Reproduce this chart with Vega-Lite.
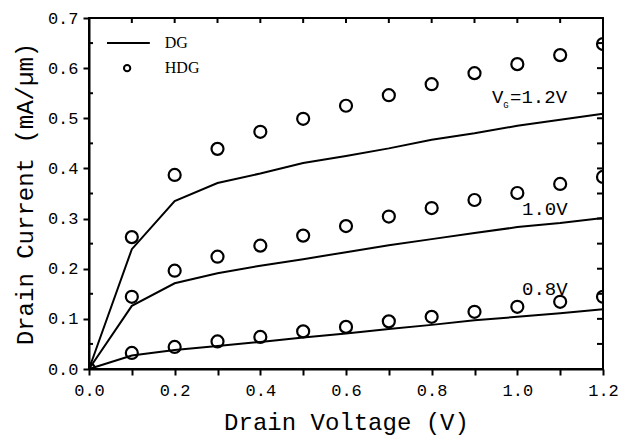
{
  "$schema": "https://vega.github.io/schema/vega-lite/v6.json",
  "width": 514,
  "height": 351,
  "autosize": "none",
  "padding": {"left": 89, "top": 18, "right": 16, "bottom": 71},
  "background": "white",
  "config": {
    "view": {"stroke": "black", "strokeWidth": 2},
    "axis": {
      "grid": false,
      "domainColor": "black",
      "domainWidth": 2,
      "tickColor": "black",
      "tickWidth": 2,
      "labelFont": "Liberation Mono",
      "labelFontSize": 17,
      "labelColor": "black",
      "titleFont": "Liberation Mono",
      "titleFontSize": 24,
      "titleFontWeight": "normal",
      "titleColor": "black"
    }
  },
  "datasets": {
    "curves": [
      {"vg": "1.2V", "type": "DG", "vd": 0.0, "id": 0.0},
      {"vg": "1.2V", "type": "DG", "vd": 0.1, "id": 0.239},
      {"vg": "1.2V", "type": "DG", "vd": 0.2, "id": 0.335},
      {"vg": "1.2V", "type": "DG", "vd": 0.3, "id": 0.371},
      {"vg": "1.2V", "type": "DG", "vd": 0.4, "id": 0.390},
      {"vg": "1.2V", "type": "DG", "vd": 0.5, "id": 0.411},
      {"vg": "1.2V", "type": "DG", "vd": 0.6, "id": 0.425},
      {"vg": "1.2V", "type": "DG", "vd": 0.7, "id": 0.440},
      {"vg": "1.2V", "type": "DG", "vd": 0.8, "id": 0.457},
      {"vg": "1.2V", "type": "DG", "vd": 0.9, "id": 0.470},
      {"vg": "1.2V", "type": "DG", "vd": 1.0, "id": 0.485},
      {"vg": "1.2V", "type": "DG", "vd": 1.1, "id": 0.497},
      {"vg": "1.2V", "type": "DG", "vd": 1.2, "id": 0.509},
      {"vg": "1.0V", "type": "DG", "vd": 0.0, "id": 0.0},
      {"vg": "1.0V", "type": "DG", "vd": 0.1, "id": 0.126},
      {"vg": "1.0V", "type": "DG", "vd": 0.2, "id": 0.171},
      {"vg": "1.0V", "type": "DG", "vd": 0.3, "id": 0.191},
      {"vg": "1.0V", "type": "DG", "vd": 0.4, "id": 0.206},
      {"vg": "1.0V", "type": "DG", "vd": 0.5, "id": 0.219},
      {"vg": "1.0V", "type": "DG", "vd": 0.6, "id": 0.233},
      {"vg": "1.0V", "type": "DG", "vd": 0.7, "id": 0.247},
      {"vg": "1.0V", "type": "DG", "vd": 0.8, "id": 0.259},
      {"vg": "1.0V", "type": "DG", "vd": 0.9, "id": 0.271},
      {"vg": "1.0V", "type": "DG", "vd": 1.0, "id": 0.283},
      {"vg": "1.0V", "type": "DG", "vd": 1.1, "id": 0.291},
      {"vg": "1.0V", "type": "DG", "vd": 1.2, "id": 0.301},
      {"vg": "0.8V", "type": "DG", "vd": 0.0, "id": 0.0},
      {"vg": "0.8V", "type": "DG", "vd": 0.1, "id": 0.027},
      {"vg": "0.8V", "type": "DG", "vd": 0.2, "id": 0.038},
      {"vg": "0.8V", "type": "DG", "vd": 0.3, "id": 0.046},
      {"vg": "0.8V", "type": "DG", "vd": 0.4, "id": 0.054},
      {"vg": "0.8V", "type": "DG", "vd": 0.5, "id": 0.063},
      {"vg": "0.8V", "type": "DG", "vd": 0.6, "id": 0.071},
      {"vg": "0.8V", "type": "DG", "vd": 0.7, "id": 0.080},
      {"vg": "0.8V", "type": "DG", "vd": 0.8, "id": 0.088},
      {"vg": "0.8V", "type": "DG", "vd": 0.9, "id": 0.097},
      {"vg": "0.8V", "type": "DG", "vd": 1.0, "id": 0.104},
      {"vg": "0.8V", "type": "DG", "vd": 1.1, "id": 0.111},
      {"vg": "0.8V", "type": "DG", "vd": 1.2, "id": 0.119},
      {"vg": "1.2V", "type": "HDG", "vd": 0.0, "id": 0.0},
      {"vg": "1.2V", "type": "HDG", "vd": 0.1, "id": 0.263},
      {"vg": "1.2V", "type": "HDG", "vd": 0.2, "id": 0.387},
      {"vg": "1.2V", "type": "HDG", "vd": 0.3, "id": 0.439},
      {"vg": "1.2V", "type": "HDG", "vd": 0.4, "id": 0.473},
      {"vg": "1.2V", "type": "HDG", "vd": 0.5, "id": 0.499},
      {"vg": "1.2V", "type": "HDG", "vd": 0.6, "id": 0.525},
      {"vg": "1.2V", "type": "HDG", "vd": 0.7, "id": 0.546},
      {"vg": "1.2V", "type": "HDG", "vd": 0.8, "id": 0.568},
      {"vg": "1.2V", "type": "HDG", "vd": 0.9, "id": 0.590},
      {"vg": "1.2V", "type": "HDG", "vd": 1.0, "id": 0.608},
      {"vg": "1.2V", "type": "HDG", "vd": 1.1, "id": 0.626},
      {"vg": "1.2V", "type": "HDG", "vd": 1.2, "id": 0.648},
      {"vg": "1.0V", "type": "HDG", "vd": 0.1, "id": 0.144},
      {"vg": "1.0V", "type": "HDG", "vd": 0.2, "id": 0.196},
      {"vg": "1.0V", "type": "HDG", "vd": 0.3, "id": 0.224},
      {"vg": "1.0V", "type": "HDG", "vd": 0.4, "id": 0.246},
      {"vg": "1.0V", "type": "HDG", "vd": 0.5, "id": 0.266},
      {"vg": "1.0V", "type": "HDG", "vd": 0.6, "id": 0.285},
      {"vg": "1.0V", "type": "HDG", "vd": 0.7, "id": 0.304},
      {"vg": "1.0V", "type": "HDG", "vd": 0.8, "id": 0.321},
      {"vg": "1.0V", "type": "HDG", "vd": 0.9, "id": 0.337},
      {"vg": "1.0V", "type": "HDG", "vd": 1.0, "id": 0.351},
      {"vg": "1.0V", "type": "HDG", "vd": 1.1, "id": 0.369},
      {"vg": "1.0V", "type": "HDG", "vd": 1.2, "id": 0.383},
      {"vg": "0.8V", "type": "HDG", "vd": 0.1, "id": 0.032},
      {"vg": "0.8V", "type": "HDG", "vd": 0.2, "id": 0.044},
      {"vg": "0.8V", "type": "HDG", "vd": 0.3, "id": 0.055},
      {"vg": "0.8V", "type": "HDG", "vd": 0.4, "id": 0.064},
      {"vg": "0.8V", "type": "HDG", "vd": 0.5, "id": 0.075},
      {"vg": "0.8V", "type": "HDG", "vd": 0.6, "id": 0.084},
      {"vg": "0.8V", "type": "HDG", "vd": 0.7, "id": 0.095},
      {"vg": "0.8V", "type": "HDG", "vd": 0.8, "id": 0.104},
      {"vg": "0.8V", "type": "HDG", "vd": 0.9, "id": 0.114},
      {"vg": "0.8V", "type": "HDG", "vd": 1.0, "id": 0.124},
      {"vg": "0.8V", "type": "HDG", "vd": 1.1, "id": 0.134},
      {"vg": "0.8V", "type": "HDG", "vd": 1.2, "id": 0.144}
    ],
    "annot": [
      {"px": 0.941, "py": 0.530, "label": "V"},
      {"px": 0.983, "py": 0.530, "label": "=1.2V"},
      {"px": 1.011, "py": 0.307, "label": "1.0V"},
      {"px": 1.011, "py": 0.148, "label": "0.8V"}
    ],
    "annotsub": [
      {"px": 0.967, "py": 0.521, "label": "G"}
    ],
    "legline": [
      {"px": 0.042, "py": 0.650},
      {"px": 0.142, "py": 0.650}
    ],
    "legpoint": [
      {"px": 0.089, "py": 0.600}
    ],
    "legtext": [
      {"px": 0.177, "py": 0.650, "label": "DG"},
      {"px": 0.177, "py": 0.600, "label": "HDG"}
    ],
    "topticks": [
      {"v": 0.1}, {"v": 0.2}, {"v": 0.3}, {"v": 0.4}, {"v": 0.5}, {"v": 0.6},
      {"v": 0.7}, {"v": 0.8}, {"v": 0.9}, {"v": 1.0}, {"v": 1.1}
    ],
    "rightticks": [
      {"v": 0.05}, {"v": 0.1}, {"v": 0.15}, {"v": 0.2}, {"v": 0.25}, {"v": 0.3}, {"v": 0.35},
      {"v": 0.4}, {"v": 0.45}, {"v": 0.5}, {"v": 0.55}, {"v": 0.6}, {"v": 0.65}
    ],
    "leftminor": [
      {"v": 0.05}, {"v": 0.15}, {"v": 0.25}, {"v": 0.35}, {"v": 0.45}, {"v": 0.55}, {"v": 0.65}
    ]
  },
  "layer": [
    {
      "data": {"name": "curves"},
      "transform": [{"filter": "datum.type == 'DG'"}],
      "mark": {"type": "line", "color": "black", "strokeWidth": 2},
      "encoding": {
        "x": {
          "field": "vd", "type": "quantitative",
          "scale": {"domain": [0, 1.2], "nice": false, "zero": false},
          "axis": {
            "orient": "bottom",
            "title": "Drain Voltage (V)",
            "values": [0, 0.1, 0.2, 0.3, 0.4, 0.5, 0.6, 0.7, 0.8, 0.9, 1.0, 1.1, 1.2],
            "labelExpr": "(round(datum.value * 10) % 2 == 0) ? format(datum.value, '.1f') : ''",
            "tickSize": 6,
            "labelPadding": 7,
            "titlePadding": 12,
            "labelFlush": false
          }
        },
        "y": {
          "field": "id", "type": "quantitative",
          "scale": {"domain": [0, 0.7], "nice": false, "zero": false},
          "axis": {
            "orient": "left",
            "title": "Drain Current (mA/µm)",
            "values": [0, 0.1, 0.2, 0.3, 0.4, 0.5, 0.6, 0.7],
            "format": ".1f",
            "tickSize": 6,
            "labelPadding": 5,
            "titlePadding": 10,
            "labelFlush": false
          }
        },
        "detail": {"field": "vg"}
      }
    },
    {
      "data": {"name": "curves"},
      "transform": [{"filter": "datum.type == 'HDG'"}],
      "mark": {"type": "point", "shape": "circle", "filled": false, "color": "black", "opacity": 1, "strokeWidth": 2.2, "size": 144, "clip": true},
      "encoding": {
        "x": {"field": "vd", "type": "quantitative"},
        "y": {"field": "id", "type": "quantitative"}
      }
    },
    {
      "data": {"name": "annot"},
      "mark": {"type": "text", "font": "Liberation Mono", "fontSize": 19, "align": "left", "baseline": "alphabetic", "color": "black"},
      "encoding": {
        "x": {"field": "px", "type": "quantitative"},
        "y": {"field": "py", "type": "quantitative"},
        "text": {"field": "label"}
      }
    },
    {
      "data": {"name": "annotsub"},
      "mark": {"type": "text", "font": "Liberation Mono", "fontSize": 9, "align": "left", "baseline": "alphabetic", "color": "black"},
      "encoding": {
        "x": {"field": "px", "type": "quantitative"},
        "y": {"field": "py", "type": "quantitative"},
        "text": {"field": "label"}
      }
    },
    {
      "data": {"name": "legline"},
      "mark": {"type": "line", "color": "black", "strokeWidth": 2},
      "encoding": {
        "x": {"field": "px", "type": "quantitative"},
        "y": {"field": "py", "type": "quantitative"}
      }
    },
    {
      "data": {"name": "legpoint"},
      "mark": {"type": "point", "shape": "circle", "filled": false, "color": "black", "opacity": 1, "strokeWidth": 2, "size": 40},
      "encoding": {
        "x": {"field": "px", "type": "quantitative"},
        "y": {"field": "py", "type": "quantitative"}
      }
    },
    {
      "data": {"name": "legtext"},
      "mark": {"type": "text", "font": "Liberation Serif", "fontSize": 16, "align": "left", "baseline": "middle", "color": "black"},
      "encoding": {
        "x": {"field": "px", "type": "quantitative"},
        "y": {"field": "py", "type": "quantitative"},
        "text": {"field": "label"}
      }
    },
    {
      "data": {"name": "topticks"},
      "mark": {"type": "tick", "orient": "vertical", "size": 5, "thickness": 2, "color": "black", "opacity": 1, "yOffset": 2.5},
      "encoding": {
        "x": {"field": "v", "type": "quantitative"},
        "y": {"datum": 0.7, "type": "quantitative"}
      }
    },
    {
      "data": {"name": "rightticks"},
      "mark": {"type": "tick", "orient": "horizontal", "size": 6, "thickness": 2, "color": "black", "opacity": 1, "xOffset": -3},
      "encoding": {
        "x": {"datum": 1.2, "type": "quantitative"},
        "y": {"field": "v", "type": "quantitative"}
      }
    },
    {
      "data": {"name": "leftminor"},
      "mark": {"type": "tick", "orient": "horizontal", "size": 4, "thickness": 2, "color": "black", "opacity": 1, "xOffset": 2},
      "encoding": {
        "x": {"datum": 0, "type": "quantitative"},
        "y": {"field": "v", "type": "quantitative"}
      }
    }
  ]
}
